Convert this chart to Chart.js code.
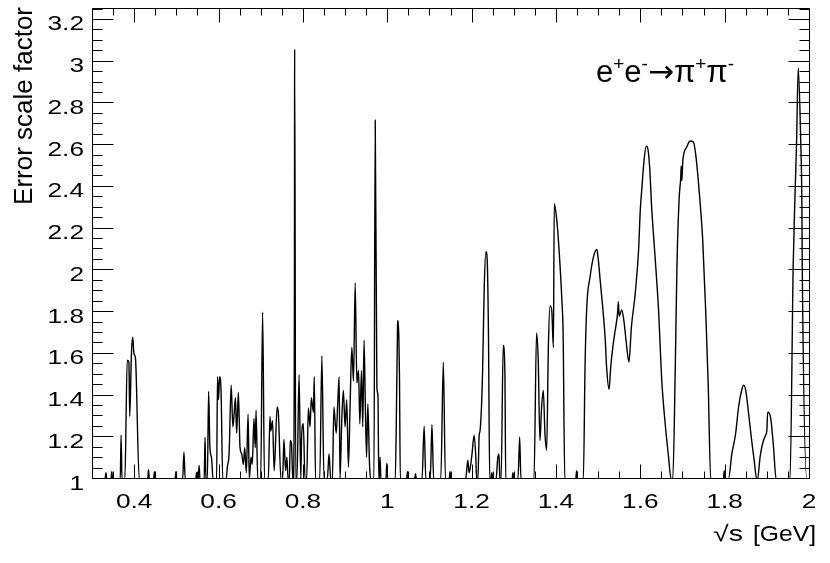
<!DOCTYPE html>
<html>
<head>
<meta charset="utf-8">
<script src="https://cdn.jsdelivr.net/npm/chart.js@4.4.1/dist/chart.umd.min.js"></script>
<style>
  html, body { margin: 0; padding: 0; background: #fff; }
  #scaleChart { display: block; }
</style>
</head>
<body>
<canvas id="scaleChart" width="830" height="563"></canvas>
<script>
// sqrt(s) [GeV] and error scale factor.
// 1 means the curve is at (or under) the bottom of the frame.
const lowX = [
    0.300, 0.331, 0.333, 0.335, 0.345, 0.347, 0.349, 0.367, 0.369, 0.371,
    0.378, 0.3835, 0.3875, 0.3895, 0.3935, 0.3965, 0.3995, 0.403, 0.412,
    0.432, 0.434, 0.436, 0.446, 0.448, 0.450, 0.497, 0.499, 0.501,
    0.515, 0.518, 0.521, 0.546, 0.548, 0.550, 0.552, 0.554, 0.556
];
const lowY = [
    1, 1, 1.03, 1, 1, 1.035, 1, 1, 1.21, 1,
    1, 1.57, 1.56, 1.30, 1.60, 1.68, 1.60, 1.58, 1,
    1, 1.045, 1, 1, 1.035, 1, 1, 1.035, 1,
    1, 1.13, 1, 1, 1.03, 1, 1, 1.065, 1
];

const rhoX = [
    0.566, 0.568, 0.570,
    0.5735, 0.5765, 0.5795, 0.5835, 0.587,
    0.5955, 0.5975, 0.600, 0.6025, 0.606, 0.610,
    0.618, 0.621, 0.625, 0.630, 0.634, 0.637, 0.640, 0.643, 0.647, 0.651,
    0.655, 0.659, 0.662, 0.666, 0.670, 0.673, 0.677, 0.680, 0.684, 0.687, 0.689, 0.693,
    0.700, 0.7045, 0.709,
    0.718, 0.722, 0.724, 0.728, 0.732, 0.739, 0.742, 0.748,
    0.752, 0.755, 0.759, 0.762, 0.765, 0.768, 0.770, 0.773, 0.776,
    0.7775, 0.7800, 0.7805, 0.7830
];
const rhoY = [
    1, 1.20, 1,
    1, 1.42, 1.155, 1.10, 1,
    1, 1.49, 1.38, 1.49, 1.42, 1,
    1, 1.06, 1.12, 1.45, 1.25, 1.31, 1.39, 1.22, 1.415, 1.15,
    1.12, 1.07, 1.15, 1.03, 1.31, 1, 1.105, 1.07, 1.29, 1.15, 1.33, 1,
    1, 1.80, 1,
    1, 1.30, 1.23, 1.28, 1.04, 1.345, 1.31, 1,
    1, 1.19, 1.04, 1.105, 1, 1, 1.185, 1.17, 1,
    1, 1.96, 3.06, 1
];

const phiX = [
    0.786, 0.791, 0.795, 0.797, 0.801, 0.805,
    0.809, 0.813, 0.817, 0.820, 0.825, 0.827, 0.830,
    0.840, 0.845, 0.850,
    0.858, 0.862, 0.866,
    0.870, 0.8735, 0.879, 0.883, 0.886, 0.888,
    0.892, 0.896, 0.900, 0.904, 0.908, 0.912, 0.916, 0.920, 0.924, 0.928,
    0.932, 0.935, 0.939, 0.942, 0.945, 0.948, 0.951, 0.954, 0.958, 0.961,
    0.9685, 0.9715, 0.9755, 0.978, 0.980,
    0.9815, 0.983, 0.985, 0.997, 0.999, 1.001
];
const phiY = [
    1, 1.50, 1, 1.20, 1.265, 1,
    1, 1.34, 1.25, 1.39, 1.32, 1.49, 1,
    1, 1.59, 1,
    1, 1.12, 1,
    1, 1.345, 1.22, 1.38, 1.49, 1,
    1.27, 1.425, 1.25, 1.38, 1.057, 1.36, 1.63, 1.47, 1.94, 1.46,
    1.52, 1.265, 1.52, 1.25, 1.665, 1.36, 1.105, 1.36, 1.07, 1,
    1, 2.72, 1.44, 1.40, 1,
    1, 1.105, 1, 1, 1.075, 1
];

const midX = [
    1.019, 1.022, 1.0245, 1.0255, 1.0275, 1.029, 1.031,
    1.046, 1.048, 1.050, 1.065, 1.067, 1.069,
    1.0825, 1.0875, 1.0915, 1.102, 1.106, 1.110,
    1.127, 1.133, 1.138, 1.147, 1.149, 1.151,
    1.186, 1.191, 1.194, 1.198, 1.201, 1.206, 1.210, 1.212,
    1.215, 1.218, 1.220, 1.226, 1.230, 1.234, 1.237, 1.240, 1.243,
    1.246, 1.248, 1.250, 1.258, 1.262, 1.265, 1.267,
    1.270, 1.275, 1.279, 1.281, 1.296, 1.298, 1.300, 1.310, 1.314, 1.317,
    1.348, 1.354, 1.358, 1.362, 1.366, 1.370, 1.374, 1.378, 1.382, 1.386, 1.390, 1.394,
    1.396, 1.402, 1.408, 1.414, 1.417, 1.421,
    1.447, 1.449, 1.451
];
const midY = [
    1, 1.35, 1.74, 1.76, 1.68, 1.50, 1,
    1, 1.035, 1, 1, 1.025, 1,
    1, 1.253, 1, 1, 1.26, 1,
    1, 1.56, 1, 1, 1.035, 1,
    1, 1.09, 1.03, 1.07, 1.12, 1.21, 1.105, 1,
    1, 1.21, 1.23, 1.505, 1.92, 2.09, 2.05, 1.70, 1,
    1, 1.03, 1, 1, 1.10, 1.12, 1,
    1, 1.64, 1.505, 1, 1, 1.03, 1, 1, 1.20, 1,
    1, 1.70, 1.57, 1.185, 1.345, 1.425, 1.217, 1.137, 1.63, 1.83, 1.81, 1.63,
    2.32, 2.24, 2.08, 1.86, 1.70, 1,
    1, 1.04, 1
];

const highX = [
    1.465, 1.469, 1.473, 1.481, 1.489, 1.497, 1.500, 1.505, 1.511, 1.517, 1.520, 1.526,
    1.530, 1.536, 1.543, 1.546, 1.548, 1.550, 1.556, 1.561, 1.567, 1.573,
    1.579, 1.588, 1.596, 1.600, 1.604, 1.609, 1.614, 1.617, 1.622, 1.627,
    1.635, 1.643, 1.651, 1.659, 1.667, 1.673,
    1.677, 1.683, 1.687, 1.692, 1.696, 1.697, 1.6985, 1.701, 1.710, 1.718, 1.726,
    1.732, 1.740, 1.748, 1.755, 1.761, 1.767,
    1.797, 1.799, 1.801,
    1.809, 1.817, 1.826, 1.833, 1.841, 1.845, 1.850, 1.857, 1.864, 1.870, 1.876,
    1.878, 1.884, 1.890, 1.897, 1.900, 1.902, 1.906, 1.910, 1.916, 1.922,
    1.955, 1.9625, 1.9665, 1.9705, 1.9745, 1.9805, 1.983, 1.984, 1.995, 2.0
];
const highY = [
    1, 1.54, 1.82, 1.97, 2.065, 2.10, 2.06, 1.95, 1.82, 1.665, 1.54, 1.43,
    1.54, 1.65, 1.745, 1.79, 1.85, 1.78, 1.81, 1.76, 1.65, 1.56,
    1.73, 1.89, 2.10, 2.29, 2.40, 2.53, 2.595, 2.59, 2.50, 2.30,
    2.065, 1.82, 1.47, 1.265, 1.105, 1,
    1, 1.54, 2.03, 2.34, 2.45, 2.50, 2.43, 2.53, 2.59, 2.62, 2.615,
    2.545, 2.37, 2.145, 1.81, 1.457, 1,
    1, 1.04, 1,
    1, 1.12, 1.217, 1.345, 1.43, 1.45, 1.425, 1.31, 1.185, 1.09, 1,
    1, 1.105, 1.17, 1.21, 1.23, 1.32, 1.315, 1.28, 1.15, 1,
    1, 2.02, 2.34, 2.61, 2.97, 2.61, 2.34, 2.02, 1, 1
];

const xTickValues = [0.4, 0.6, 0.8, 1, 1.2, 1.4, 1.6, 1.8, 2];
const xTickLabels = ["0.4", "0.6", "0.8", "1", "1.2", "1.4", "1.6", "1.8", "2"];
const yTickValues = [1, 1.2, 1.4, 1.6, 1.8, 2, 2.2, 2.4, 2.6, 2.8, 3, 3.2];
const yTickLabels = ["1", "1.2", "1.4", "1.6", "1.8", "2", "2.2", "2.4", "2.6", "2.8", "3", "3.2"];

const yTitle = "Error scale factor";
const xTitleVar = "\u221As";
const xTitleUnit = "[GeV]";

const FONT = "'Liberation Sans', Arial, Helvetica, sans-serif";
const ARROW_FONT = "'DejaVu Sans', sans-serif";

const sqrtS = [...lowX, ...rhoX, ...phiX, ...midX, ...highX];
const factor = [...lowY, ...rhoY, ...phiY, ...midY, ...highY];
const points = sqrtS.map((x, i) => ({ x: x, y: factor[i] }));

// draw text stretched along its own direction
function stretchText(ctx, text, x, y, align, sx) {
    ctx.save();
    ctx.translate(x, y);
    ctx.scale(sx, 1);
    ctx.textAlign = align;
    ctx.fillText(text, 0, 0);
    ctx.restore();
}

// e+e- -> pi+pi- label with superscripts
function drawReaction(ctx, x0, base) {
    const big = "31px " + FONT;
    const small = "19px " + FONT;
    const arrow = "31px " + ARROW_FONT;
    const supBase = base - 12;
    const parts = [
        ["e", big, base], ["+", small, supBase],
        ["e", big, base], ["-", small, supBase],
        ["\u2192", arrow, base],
        ["\u03C0", big, base], ["+", small, supBase],
        ["\u03C0", big, base], ["-", small, supBase]
    ];
    let x = x0;
    ctx.textAlign = "left";
    parts.forEach(([t, f, b]) => {
        ctx.font = f;
        ctx.fillText(t, x, b);
        x += ctx.measureText(t).width;
    });
}

// ROOT style frame: ticks on all four sides, labels, titles
const rootFrame = {
    id: "rootFrame",
    afterDraw(chart) {
        const ctx = chart.ctx;
        const xs = chart.scales.x;
        const ys = chart.scales.y;
        const { left, right, top, bottom } = chart.chartArea;

        ctx.save();
        ctx.strokeStyle = "#000";
        ctx.fillStyle = "#000";
        ctx.lineWidth = 1;

        ctx.beginPath();
        ctx.moveTo(left + 0.5, top + 0.5);
        ctx.lineTo(right + 0.5, top + 0.5);
        ctx.lineTo(right + 0.5, bottom - 0.5);
        ctx.lineTo(left + 0.5, bottom - 0.5);
        ctx.closePath();

        // x ticks every 0.05, major every 0.2
        for (let i = 6; i <= 40; i++) {
            const px = Math.round(xs.getPixelForValue(i * 0.05)) + 0.5;
            const len = i % 4 === 0 ? 14 : 7;
            ctx.moveTo(px, bottom - 0.5);
            ctx.lineTo(px, bottom - 0.5 - len);
            ctx.moveTo(px, top + 0.5);
            ctx.lineTo(px, top + 0.5 + len);
        }
        // y ticks every 0.05, major every 0.2
        for (let i = 20; i <= 65; i++) {
            const py = Math.round(ys.getPixelForValue(i * 0.05)) - 0.5;
            const len = i % 4 === 0 ? 21 : 10;
            ctx.moveTo(left + 0.5, py);
            ctx.lineTo(left + 0.5 + len, py);
            ctx.moveTo(right + 0.5, py);
            ctx.lineTo(right + 0.5 - len, py);
        }
        ctx.stroke();

        ctx.font = "21px " + FONT;
        ctx.textBaseline = "alphabetic";
        xTickValues.forEach((v, i) => {
            stretchText(ctx, xTickLabels[i], xs.getPixelForValue(v), 507.5, "center", 1.25);
        });
        yTickValues.forEach((v, i) => {
            stretchText(ctx, yTickLabels[i], 84, ys.getPixelForValue(v) + 10.5, "right", 1.25);
        });

        // axis titles
        ctx.font = "22px " + FONT;
        stretchText(ctx, xTitleUnit, 816, 540.5, "right", 1.12);
        stretchText(ctx, xTitleVar, 743, 540.5, "right", 1.3);

        ctx.save();
        ctx.font = "26px " + FONT;
        ctx.translate(32, 7);
        ctx.rotate(-Math.PI / 2);
        ctx.textAlign = "right";
        ctx.fillText(yTitle, 0, 0);
        ctx.restore();

        drawReaction(ctx, 596, 82);
        ctx.restore();
    }
};

const ctx = document.getElementById("scaleChart").getContext("2d");
const scaleChart = new Chart(ctx, {
    type: "scatter",
    data: {
        datasets: [{
            label: "Error scale factor",
            data: points,
            showLine: true,
            borderColor: "#000",
            borderWidth: 1.4,
            pointRadius: 0,
            cubicInterpolationMode: "monotone",
            fill: false
        }]
    },
    options: {
        responsive: false,
        animation: false,
        devicePixelRatio: 1,
        layout: {
            padding: { left: 92, right: 21, top: 8, bottom: 84 }
        },
        plugins: {
            legend: { display: false },
            tooltip: { enabled: false },
            title: { display: false }
        },
        scales: {
            x: { type: "linear", min: 0.3, max: 2.0, display: false },
            y: { type: "linear", min: 1, max: 3.2575, display: false }
        }
    },
    plugins: [rootFrame]
});
</script>
</body>
</html>
